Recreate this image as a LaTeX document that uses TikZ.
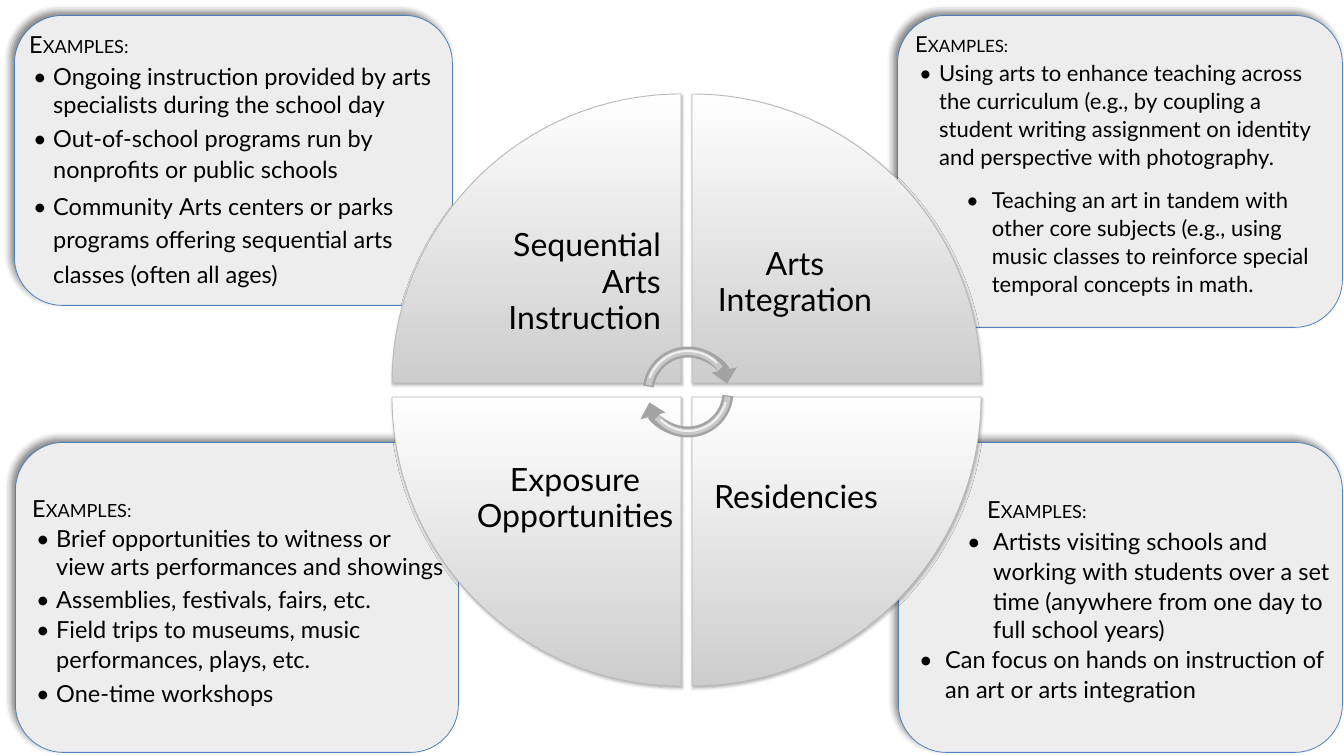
\documentclass[tikz,border=0pt]{standalone}
\usepackage{fontspec}
\setmainfont{Lato}
\usepackage{tikz}
\usetikzlibrary{arrows.meta, positioning, shadows.blur}

\definecolor{boxline}{RGB}{79,129,189}
\definecolor{boxfill}{RGB}{237,237,237}

\newcommand{\exhead}{E{\fontsize{0.77em}{1em}\selectfont XAMPLES:}}
\newcommand{\bul}[1][4pt]{\hspace*{#1}\makebox[20pt][l]{\textbullet}}
\newcommand{\cont}[1][4pt]{\hspace*{\dimexpr #1+20pt\relax}}

\tikzset{
    examplebox/.style={rectangle, rounded corners=48pt, draw=boxline, line width=0.8pt, fill=boxfill, anchor=north west,
        blur shadow={shadow xshift=-4pt, shadow yshift=4pt, shadow blur radius=6pt, shadow opacity=50}},
    boxtext/.style={align=left, inner sep=0pt, font=\fontsize{23.5}{29}\selectfont},
    quadrant/.style={top color=white, bottom color=gray!40, draw=gray!55, line width=0.9pt,
        blur shadow={shadow xshift=1pt, shadow yshift=-2pt, shadow blur radius=3pt, shadow opacity=35}},
    quadlabel/.style={inner sep=0pt, font=\fontsize{32}{36.5}\selectfont},
    hubring/.style={line width=11pt, draw=gray!72, -{Triangle[width=25pt, length=14pt]}},
    hubcore/.style={line width=6pt, draw=gray!42},
    hubshine/.style={line width=2pt, draw=white, opacity=0.75}
}

\begin{document}
\begin{tikzpicture}[x=1pt, y=1pt]
    \useasboundingbox (0,0) rectangle (1344,755);

    % example boxes
    \node (tlbox) [examplebox, minimum width=438pt, minimum height=290pt] at (14,740) {};
    \node (trbox) [examplebox, minimum width=445pt, minimum height=312pt] at (897,740) {};
    \node (blbox) [examplebox, minimum width=443pt, minimum height=310pt] at (15,313) {};
    \node (brbox) [examplebox, minimum width=444pt, minimum height=310pt] at (898,313) {};

    \node (tltext) [boxtext, below right=21pt and 15pt of tlbox.north west] {%
        \exhead\\[3pt]
        \bul Ongoing instruction provided by arts\\[-1pt]
        \cont specialists during the school day\\[5pt]
        \bul Out-of-school programs run by\\[2pt]
        \cont nonprofits or public schools\\[8pt]
        \bul Community Arts centers or parks\\[4pt]
        \cont programs offering sequential arts\\[6pt]
        \cont classes (often all ages)};
    \node (trtext) [boxtext, font=\fontsize{22}{28}\selectfont, below right=22pt and 18pt of trbox.north west] {%
        \exhead\\[1pt]
        \bul Using arts to enhance teaching across\\
        \cont the curriculum (e.g., by coupling a\\
        \cont student writing assignment on identity\\
        \cont and perspective with photography.\\[15pt]
        \bul[51pt] Teaching an art in tandem with\\
        \cont[51pt] other core subjects (e.g., using\\
        \cont[51pt] music classes to reinforce special\\
        \cont[51pt] temporal concepts in math.};
    \node (bltext) [boxtext, below right=58pt and 17pt of blbox.north west] {%
        \exhead\\[1pt]
        \bul Brief opportunities to witness or\\[-1pt]
        \cont view arts performances and showings\\[4pt]
        \bul Assemblies, festivals, fairs, etc.\\[1pt]
        \bul Field trips to museums, music\\[1pt]
        \cont performances, plays, etc.\\[5pt]
        \bul One-time workshops};
    \node (brtext) [boxtext, below right=59pt and 21pt of brbox.north west] {%
        \hspace*{68pt}\exhead\\[3pt]
        \bul[48pt] Artists visiting schools and\\[1pt]
        \cont[48pt] working with students over a set\\[1pt]
        \cont[48pt] time (anywhere from one day to\\[-1pt]
        \cont[48pt] full school years)\\[1pt]
        \bul[0pt] Can focus on hands on instruction of\\[1pt]
        \cont[0pt] an art or arts integration};

    % the four quarters of the circle
    \draw[quadrant] (681,372) -- (392,372) arc[start angle=180, end angle=90, radius=289pt] -- cycle;
    \draw[quadrant] (692,372) -- (692,661) arc[start angle=90, end angle=0, radius=289pt] -- cycle;
    \draw[quadrant] (681,358) -- (681,69) arc[start angle=270, end angle=180, radius=289pt] -- cycle;
    \draw[quadrant] (692,358) -- (981,358) arc[start angle=0, end angle=-90, radius=289pt] -- cycle;

    \node (seq) [quadlabel, align=right, anchor=north east] at (661,522) {Sequential\\Arts\\Instruction};
    \node (integ) [quadlabel, align=center, anchor=north] at (795,503) {Arts\\Integration};
    \node (expo) [quadlabel, align=center, anchor=north] at (575,287) {Exposure\\Opportunities};
    \node (resid) [quadlabel, anchor=base] at (796,246) {Residencies};

    % cycle arrows in the middle
    \coordinate (hub) at (688,363);
    \draw[hubring] ([shift={(172:40pt)}]hub) arc[start angle=172, end angle=12, radius=40pt];
    \draw[hubring] ([shift={(-5:40pt)}]hub) arc[start angle=-5, end angle=-165, radius=40pt];
    \draw[hubcore] ([shift={(170:40pt)}]hub) arc[start angle=170, end angle=36, radius=40pt];
    \draw[hubcore] ([shift={(-7:40pt)}]hub) arc[start angle=-7, end angle=-141, radius=40pt];
    \draw[hubshine] ([shift={(160:41pt)}]hub) arc[start angle=160, end angle=45, radius=41pt];
    \draw[hubshine] ([shift={(-15:39pt)}]hub) arc[start angle=-15, end angle=-135, radius=39pt];
\end{tikzpicture}
\end{document}
